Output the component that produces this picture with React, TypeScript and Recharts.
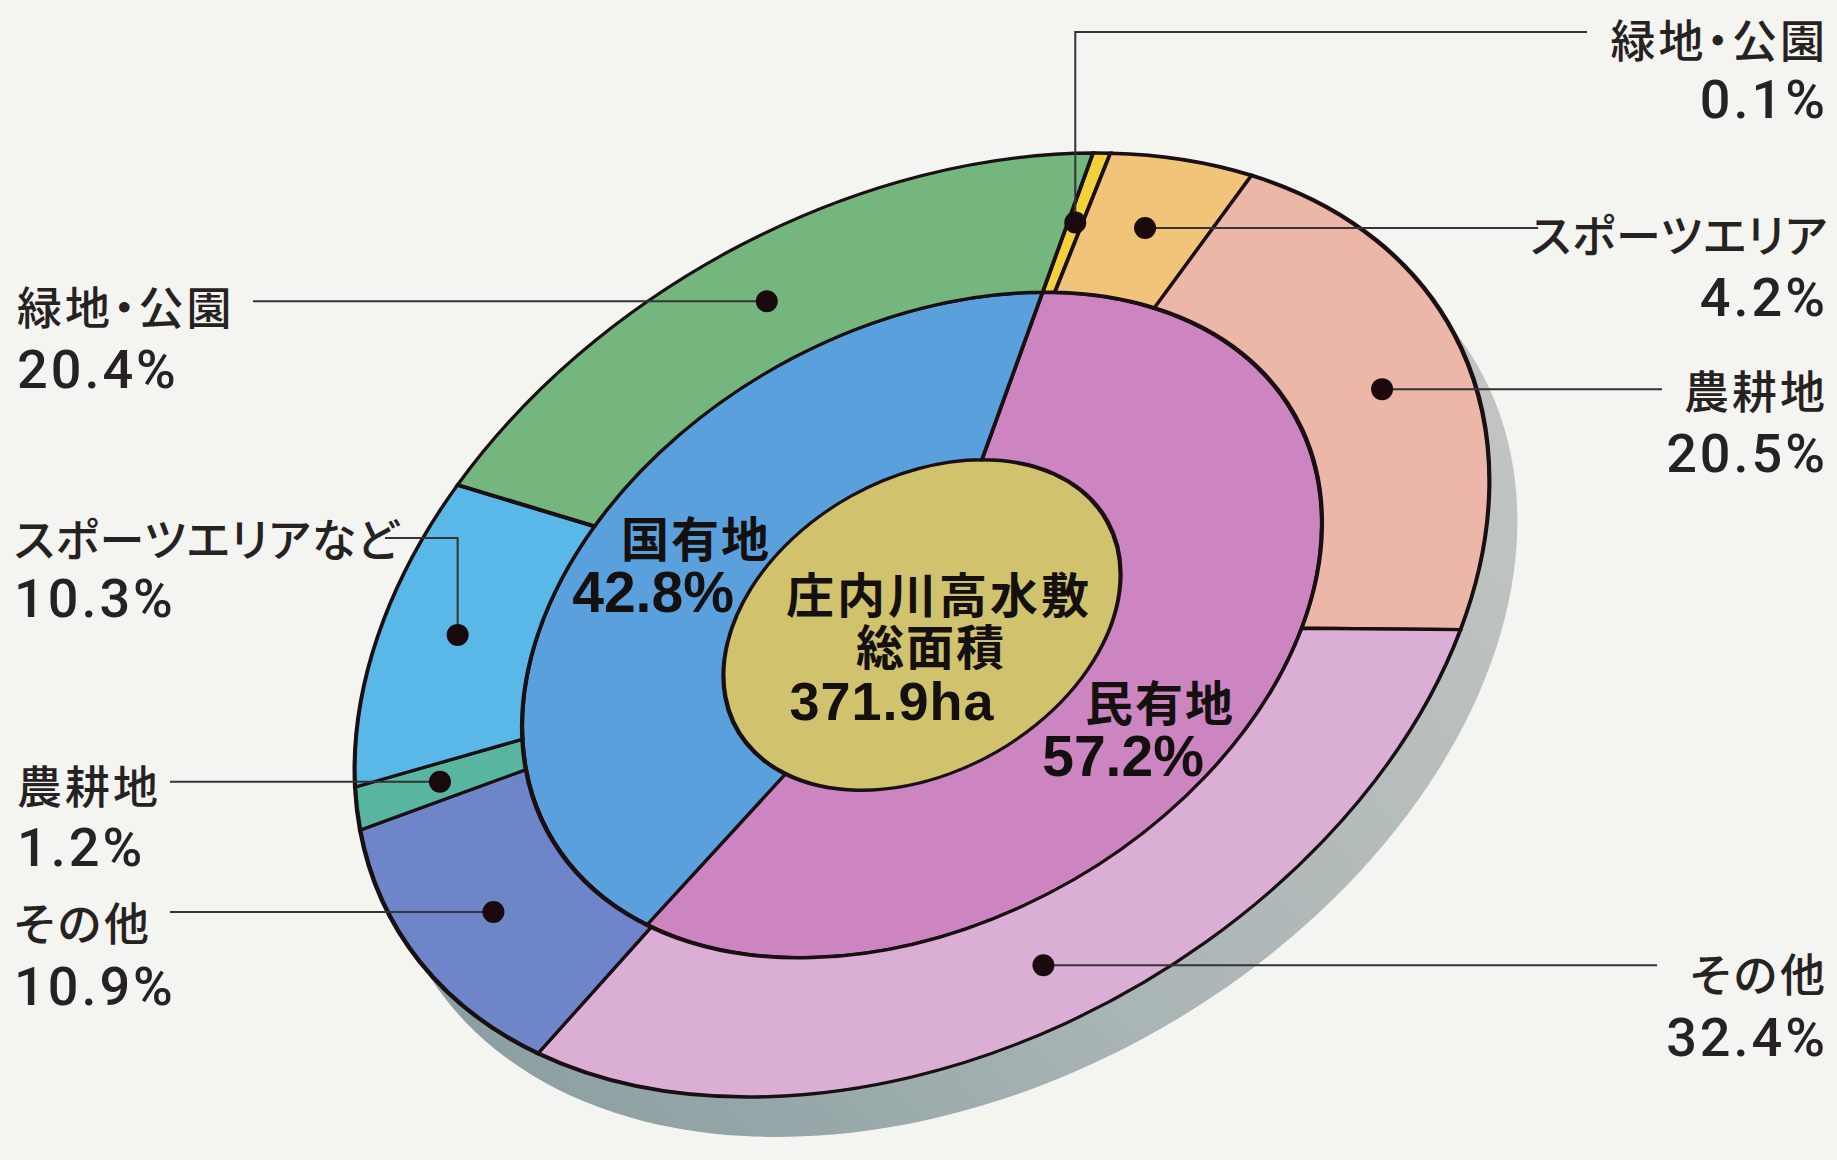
import React from 'react';
import { PieChart, Pie, Cell } from 'recharts';

// ---------- data ----------
const LAND_USE_NAMES = ['緑地・公園', 'スポーツエリア', '農耕地', 'その他', 'その他', '農耕地', 'スポーツエリアなど', '緑地・公園'];
const LAND_USE_SHARES = [0.1, 4.2, 20.5, 32.4, 10.9, 1.2, 10.3, 20.4];
const LAND_USE_COLORS = ['#f3d13c', '#f2c47a', '#ecb6a8', '#dbaed6', '#6e85c9', '#58b6a0', '#59b8e8', '#74b67e'];

const OWNER_NAMES = ['民有地', '国有地'];
const OWNER_SHARES = [57.2, 42.8];
const OWNER_COLORS = ['#cc85c0', '#5aa0dc'];

const TOTAL_TITLE = ['庄内川高水敷', '総面積'];
const TOTAL_AREA = 371.9;
const TOTAL_UNIT = 'ha';
const TOTAL_COLOR = '#d1c26e';

// ---------- layout ----------
const W = 1837;
const H = 1160;
const R0 = 100;
const LOCAL = 220;
const CX0 = LOCAL / 2;
const CY0 = LOCAL / 2;
const CENTER = { x: 922, y: 625 };
const AXIS_U = { x: 171, y: -472 };
const AXIS_V = { x: 541, y: -2 };
const RING_SPLIT = 0.705;
const CORE = 0.35;
const DOT_R = 0.853;
const MIN_OUTER = 1.5;
const MIN_OWNER = 6;
const SHADOW_SHIFT = { x: 28, y: 40 };
const STROKE_LOCAL = 0.74;

const JP = "'Noto Sans CJK JP', 'Noto Sans', sans-serif";
const NUM = "Roboto, 'Liberation Sans', sans-serif";
const NUM_BOLD = "'Liberation Sans', Arial, sans-serif";

const ma = AXIS_V.x / R0;
const mb = AXIS_V.y / R0;
const mc = -AXIS_U.x / R0;
const md = -AXIS_U.y / R0;
const me = CENTER.x - (ma * CX0 + mc * CY0);
const mf = CENTER.y - (mb * CX0 + md * CY0);
const RING_TF = `matrix(${ma}, ${mb}, ${mc}, ${md}, ${me}, ${mf})`;
const SHADOW_TF = `matrix(${ma}, ${mb}, ${mc}, ${md}, ${me + SHADOW_SHIFT.x}, ${mf + SHADOW_SHIFT.y})`;

function sectorAngles(values: number[], minAngle: number) {
  const start = 90;
  const end = -270;
  const delta = end - start;
  const sign = Math.sign(delta);
  const total = values.reduce((s, v) => s + v, 0);
  const nz = values.filter((v) => v !== 0).length;
  const real = Math.abs(delta) - nz * minAngle;
  let s = start;
  return values.map((v) => {
    const e = s + sign * ((v !== 0 ? minAngle : 0) + (v / total) * real);
    const r = { start: s, end: e, mid: (s + e) / 2 };
    s = e;
    return r;
  });
}

function toScreen(angleDeg: number, rFrac: number) {
  const t = (angleDeg * Math.PI) / 180;
  const wx = rFrac * Math.cos(t);
  const wy = -rFrac * Math.sin(t);
  return {
    x: CENTER.x + AXIS_V.x * wx - AXIS_U.x * wy,
    y: CENTER.y + AXIS_V.y * wx - AXIS_U.y * wy,
  };
}

type LabelLayout = {
  x: number;
  anchor: 'start' | 'end';
  y1: number;
  y2: number;
  endX: number;
  mode?: 'up' | 'down';
  lineY?: number;
  spacing: number;
};

const LABEL_LAYOUT: LabelLayout[] = [
  { x: 1828, anchor: 'end', y1: 38, y2: 99, endX: 1587, mode: 'up', lineY: 32, spacing: 3 },
  { x: 1828, anchor: 'end', y1: 233, y2: 297, endX: 1538, spacing: 1 },
  { x: 1828, anchor: 'end', y1: 389, y2: 453, endX: 1662, spacing: 3 },
  { x: 1828, anchor: 'end', y1: 972, y2: 1037, endX: 1657, spacing: 3 },
  { x: 14, anchor: 'start', y1: 921, y2: 986, endX: 170, spacing: 3 },
  { x: 17, anchor: 'start', y1: 784, y2: 847, endX: 170, spacing: 3 },
  { x: 14, anchor: 'start', y1: 537, y2: 598, endX: 385, mode: 'down', lineY: 538, spacing: 1 },
  { x: 17, anchor: 'start', y1: 305, y2: 369, endX: 253, spacing: 3 },
];

const outerData = LAND_USE_NAMES.map((name, i) => ({ name, value: LAND_USE_SHARES[i] }));
const ownerData = OWNER_NAMES.map((name, i) => ({ name, value: OWNER_SHARES[i] }));
const totalData = [{ name: '総面積', value: TOTAL_AREA }];
const shadowData = [{ name: 'shadow', value: TOTAL_AREA }];

const layerStyle = (tf: string): React.CSSProperties => ({
  position: 'absolute',
  left: 0,
  top: 0,
  width: LOCAL,
  height: LOCAL,
  transform: tf,
  transformOrigin: '0 0',
});

export default function App() {
  const outerAngles = sectorAngles(LAND_USE_SHARES, MIN_OUTER);
  const dots = outerAngles.map((a) => toScreen(a.mid, DOT_R));

  return (
    <div style={{ position: 'absolute', left: 0, top: 0, width: W, height: H, background: '#f4f4f1', overflow: 'hidden' }}>
      <svg width={1} height={1} style={{ position: 'absolute', left: 0, top: 0 }}>
        <defs>
          <linearGradient id="shadowGrad" x1="1" y1="0.2" x2="0.2" y2="1">
            <stop offset="0" stopColor="#c4c6c5" />
            <stop offset="0.55" stopColor="#aab5b5" />
            <stop offset="1" stopColor="#879c9f" />
          </linearGradient>
        </defs>
      </svg>
      {/* shadow */}
      <div style={layerStyle(SHADOW_TF)}>
        <PieChart width={LOCAL} height={LOCAL} margin={{ top: 0, right: 0, bottom: 0, left: 0 }}>
          <Pie
            data={shadowData}
            dataKey="value"
            cx={CX0}
            cy={CY0}
            innerRadius={0}
            outerRadius={R0}
            startAngle={90}
            endAngle={-270}
            stroke="none"
            isAnimationActive={false}
          >
            <Cell fill="url(#shadowGrad)" stroke="none" />
          </Pie>
        </PieChart>
      </div>
      {/* rings */}
      <div style={layerStyle(RING_TF)}>
        <PieChart width={LOCAL} height={LOCAL} margin={{ top: 0, right: 0, bottom: 0, left: 0 }}>
          <Pie
            data={totalData}
            dataKey="value"
            cx={CX0}
            cy={CY0}
            innerRadius={0}
            outerRadius={R0 * CORE}
            startAngle={90}
            endAngle={-270}
            stroke="none"
            isAnimationActive={false}
          >
            <Cell fill={TOTAL_COLOR} stroke="none" />
          </Pie>
          <Pie
            data={ownerData}
            dataKey="value"
            cx={CX0}
            cy={CY0}
            innerRadius={R0 * CORE}
            outerRadius={R0 * RING_SPLIT}
            startAngle={90}
            endAngle={-270}
            minAngle={MIN_OWNER}
            stroke="#1a0f12"
            strokeWidth={STROKE_LOCAL}
            isAnimationActive={false}
          >
            {ownerData.map((d, i) => (
              <Cell key={d.name} fill={OWNER_COLORS[i]} stroke="#1a0f12" strokeWidth={STROKE_LOCAL} />
            ))}
          </Pie>
          <Pie
            data={outerData}
            dataKey="value"
            cx={CX0}
            cy={CY0}
            innerRadius={R0 * RING_SPLIT}
            outerRadius={R0}
            startAngle={90}
            endAngle={-270}
            minAngle={MIN_OUTER}
            stroke="#1a0f12"
            strokeWidth={STROKE_LOCAL}
            isAnimationActive={false}
          >
            {outerData.map((d, i) => (
              <Cell key={i} fill={LAND_USE_COLORS[i]} stroke="#1a0f12" strokeWidth={STROKE_LOCAL} />
            ))}
          </Pie>
        </PieChart>
      </div>
      <svg width={W} height={H} style={{ position: 'absolute', left: 0, top: 0, pointerEvents: 'none' }}>
        {/* leader lines */}
        {dots.map((p, i) => {
          const L = LABEL_LAYOUT[i];
          let pts: string;
          if (L.mode === 'up') pts = `${p.x},${p.y} ${p.x},${L.lineY} ${L.endX},${L.lineY}`;
          else if (L.mode === 'down') pts = `${L.endX},${L.lineY} ${p.x},${L.lineY} ${p.x},${p.y}`;
          else pts = `${p.x},${p.y} ${L.endX},${p.y}`;
          return <polyline key={`l${i}`} points={pts} fill="none" stroke="#353333" strokeWidth={2} />;
        })}
        {dots.map((p, i) => (
          <circle key={`d${i}`} cx={p.x} cy={p.y} r={11} fill="#1a0a0e" />
        ))}
        {/* outer labels */}
        {LAND_USE_NAMES.map((name, i) => {
          const L = LABEL_LAYOUT[i];
          return (
            <g key={`t${i}`} fill="#262222">
              <text
                x={L.x}
                y={L.y1}
                textAnchor={L.anchor}
                dominantBaseline="central"
                fontFamily={JP}
                fontWeight={500}
                fontSize={45}
                letterSpacing={L.spacing}
                style={{ fontFeatureSettings: "'palt'" }}
              >
                {name}
              </text>
              <text
                x={L.x}
                y={L.y2}
                textAnchor={L.anchor}
                dominantBaseline="central"
                fontFamily={NUM}
                fontWeight={500}
                fontSize={54}
                letterSpacing={3}
              >
                {`${LAND_USE_SHARES[i]}%`}
              </text>
            </g>
          );
        })}
        {/* owner + total labels */}
        <g fill="#141010" fontWeight={700}>
          <text x={696} y={536} textAnchor="middle" dominantBaseline="central" fontFamily={JP} fontSize={48} letterSpacing={2}>
            {OWNER_NAMES[1]}
          </text>
          <text x={653} y={592} textAnchor="middle" dominantBaseline="central" fontFamily={NUM_BOLD} fontSize={57}>
            {`${OWNER_SHARES[1]}%`}
          </text>
          <text x={1160} y={700} textAnchor="middle" dominantBaseline="central" fontFamily={JP} fontSize={48} letterSpacing={2}>
            {OWNER_NAMES[0]}
          </text>
          <text x={1123} y={756} textAnchor="middle" dominantBaseline="central" fontFamily={NUM_BOLD} fontSize={57}>
            {`${OWNER_SHARES[0]}%`}
          </text>
          <text x={939} y={592} textAnchor="middle" dominantBaseline="central" fontFamily={JP} fontSize={48} letterSpacing={3}>
            {TOTAL_TITLE[0]}
          </text>
          <text x={931} y={644} textAnchor="middle" dominantBaseline="central" fontFamily={JP} fontSize={48} letterSpacing={2}>
            {TOTAL_TITLE[1]}
          </text>
          <text x={892} y={701} textAnchor="middle" dominantBaseline="central" fontFamily={NUM_BOLD} fontSize={54} letterSpacing={1}>
            {`${TOTAL_AREA}${TOTAL_UNIT}`}
          </text>
        </g>
      </svg>
    </div>
  );
}
